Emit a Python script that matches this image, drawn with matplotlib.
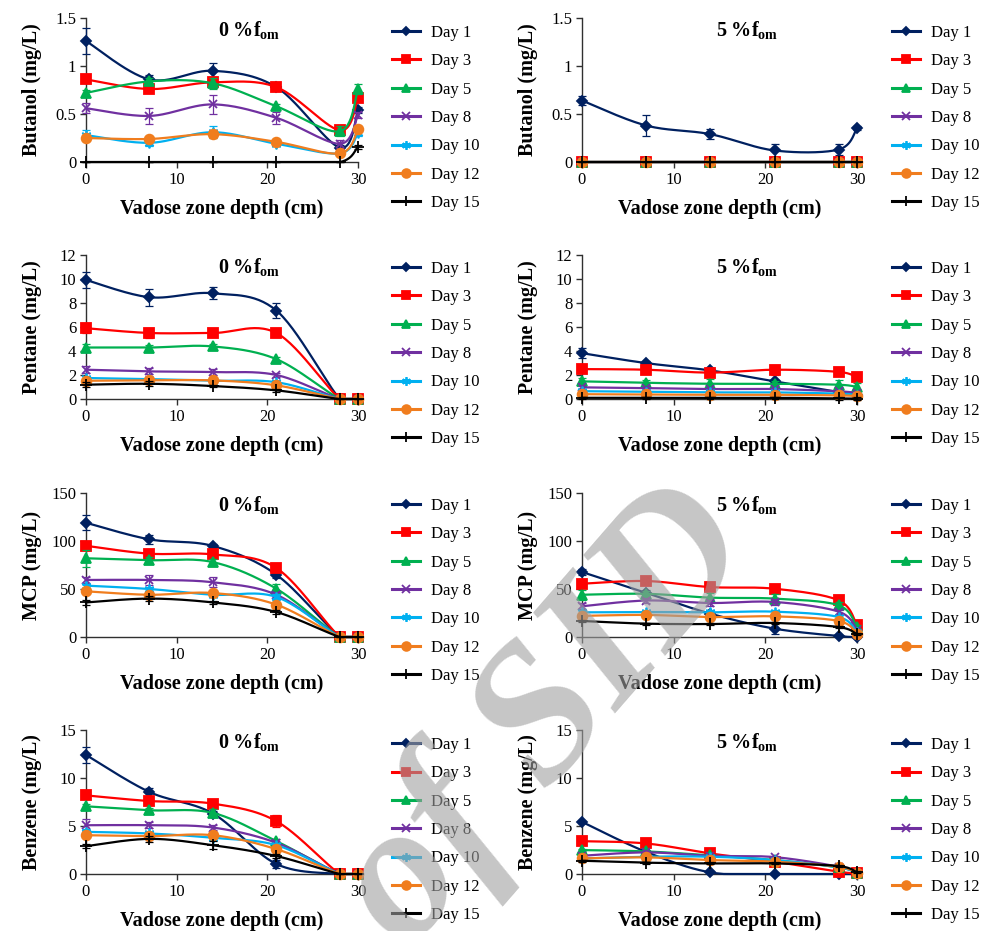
import numpy as np
import matplotlib
matplotlib.use("Agg")
import matplotlib.pyplot as plt
from matplotlib.lines import Line2D

plt.rcParams['font.family'] = ['Liberation Serif', 'DejaVu Serif']
plt.rcParams['mathtext.fontset'] = 'custom'
plt.rcParams['mathtext.rm'] = 'Liberation Serif'
plt.rcParams['mathtext.bf'] = 'Liberation Serif:bold'
plt.rcParams['mathtext.it'] = 'Liberation Serif:italic'

# ---------------- data ----------------
depth = [0, 7, 14, 21, 28, 30]
days = ['Day 1', 'Day 3', 'Day 5', 'Day 8', 'Day 10', 'Day 12', 'Day 15']
colors = ['#002060', '#FF0000', '#00B050', '#7030A0', '#00B0F0', '#F07D1E', '#000000']
markers = ['D', 's', '^', 'x', (6, 2, 0), 'o', '+']
msizes = [5, 7, 7, 6, 7, 7, 8]

butanol_0 = [[1.26, 0.86, 0.95, 0.78, 0.15, 0.54],
             [0.86, 0.76, 0.83, 0.78, 0.33, 0.67],
             [0.72, 0.84, 0.82, 0.58, 0.32, 0.76],
             [0.56, 0.48, 0.60, 0.46, 0.19, 0.49],
             [0.28, 0.20, 0.31, 0.19, 0.09, 0.30],
             [0.25, 0.24, 0.29, 0.21, 0.09, 0.34],
             [0.0, 0.0, 0.0, 0.0, 0.0, 0.16]]
butanol_0_err = [[0.14, 0.05, 0.08, 0.03, 0.03, 0.03],
                 [0.02, 0.03, 0.06, 0.03, 0.05, 0.03],
                 [0.03, 0.03, 0.06, 0.02, 0.05, 0.05],
                 [0.05, 0.08, 0.10, 0.06, 0.04, 0.03],
                 [0.05, 0.03, 0.06, 0.02, 0.02, 0.03],
                 [0.02, 0.02, 0.04, 0.02, 0.02, 0.03],
                 [0.0, 0.0, 0.0, 0.0, 0.0, 0.02]]

butanol_5 = [[0.64, 0.38, 0.29, 0.12, 0.13, 0.35],
             [0, 0, 0, 0, 0, 0],
             [0, 0, 0, 0, 0, 0],
             [0, 0, 0, 0, 0, 0],
             [0, 0, 0, 0, 0, 0],
             [0, 0, 0, 0, 0, 0],
             [0, 0, 0, 0, 0, 0]]
butanol_5_err = [[0.05, 0.11, 0.05, 0.07, 0.06, 0.02],
                 [0, 0, 0, 0, 0, 0],
                 [0, 0, 0, 0, 0, 0],
                 [0, 0, 0, 0, 0, 0],
                 [0, 0, 0, 0, 0, 0],
                 [0, 0, 0, 0, 0, 0],
                 [0, 0, 0, 0, 0, 0]]

pentane_0 = [[9.92, 8.48, 8.81, 7.37, 0, 0],
             [5.90, 5.50, 5.50, 5.50, 0, 0],
             [4.29, 4.29, 4.38, 3.32, 0, 0],
             [2.44, 2.30, 2.24, 2.00, 0, 0],
             [1.75, 1.66, 1.52, 1.40, 0, 0],
             [1.52, 1.55, 1.55, 1.14, 0, 0],
             [1.19, 1.27, 1.08, 0.72, 0, 0]]
pentane_0_err = [[0.7, 0.7, 0.5, 0.6, 0, 0],
                 [0.4, 0.4, 0.35, 0.3, 0, 0],
                 [0.3, 0.2, 0.2, 0.2, 0, 0],
                 [0.3, 0.25, 0.25, 0.2, 0, 0],
                 [0.2, 0.15, 0.15, 0.1, 0, 0],
                 [0.15, 0.15, 0.15, 0.1, 0, 0],
                 [0.2, 0.2, 0.1, 0.1, 0, 0]]

pentane_5 = [[3.82, 2.99, 2.38, 1.47, 0.58, 0.36],
             [2.49, 2.44, 2.20, 2.44, 2.26, 1.80],
             [1.47, 1.35, 1.27, 1.27, 1.19, 1.00],
             [0.97, 0.91, 0.83, 0.83, 0.64, 0.50],
             [0.65, 0.60, 0.55, 0.55, 0.45, 0.35],
             [0.40, 0.38, 0.35, 0.35, 0.30, 0.25],
             [0.10, 0.10, 0.10, 0.10, 0.05, 0.03]]
pentane_5_err = [[0.4, 0.15, 0.2, 0.15, 0.1, 0.1],
                 [0.1, 0.1, 0.1, 0.4, 0.2, 0.1],
                 [0.3, 0.2, 0.4, 0.2, 0.4, 0.3],
                 [0.1, 0.1, 0.1, 0.1, 0.1, 0.1],
                 [0.1, 0.1, 0.1, 0.1, 0.1, 0.1],
                 [0.1, 0.1, 0.1, 0.1, 0.1, 0.1],
                 [0.1, 0.1, 0.1, 0.1, 0.1, 0.1]]

mcp_0 = [[119, 101.7, 94.8, 64.9, 0, 0],
         [95, 86.8, 86, 71.9, 0, 0],
         [82, 80, 78, 50.3, 0, 0],
         [59.4, 59.4, 57, 44, 0, 0],
         [53.5, 50, 44, 41.7, 0, 0],
         [47.6, 44, 45.8, 33.7, 0, 0],
         [36, 40, 36, 26, 0, 0]]
mcp_0_err = [[8, 5, 2, 3, 0, 0],
             [2, 2, 2, 2, 0, 0],
             [9, 3, 3, 5, 0, 0],
             [3, 5, 5, 3, 0, 0],
             [2, 2, 2, 3, 0, 0],
             [2, 2, 2, 2, 0, 0],
             [3, 3, 2, 2, 0, 0]]

mcp_5 = [[67.7, 46, 24.3, 8.7, 1, 0],
         [55.5, 58.3, 52, 50.3, 38.2, 12],
         [44, 45, 41, 40, 33, 10],
         [32, 38, 35.4, 36.5, 26.4, 7.6],
         [25.7, 26, 25.7, 26.4, 20.8, 5],
         [22, 23, 20.8, 21.5, 16.7, 3.5],
         [16.7, 13.9, 13.5, 14.6, 10.4, 2.8]]
mcp_5_err = [[3, 3, 2, 6, 1, 1],
             [2, 2, 2, 2, 2, 2],
             [5, 3, 5, 5, 3, 2],
             [3, 3, 3, 3, 2, 1],
             [2, 2, 2, 2, 2, 1],
             [2, 2, 2, 2, 2, 1],
             [1, 1, 1, 1, 1, 1]]

benzene_0 = [[12.4, 8.54, 6.3, 1.04, 0, 0],
             [8.19, 7.6, 7.33, 5.5, 0, 0],
             [7.05, 6.64, 6.36, 3.42, 0, 0],
             [5.08, 5.08, 4.84, 3.25, 0, 0],
             [4.39, 4.22, 3.77, 3.0, 0, 0],
             [4.04, 3.94, 4.04, 2.59, 0, 0],
             [2.9, 3.66, 3.0, 1.87, 0, 0]]
benzene_0_err = [[0.8, 0.4, 0.3, 0.4, 0, 0],
                 [0.2, 0.2, 0.2, 0.6, 0, 0],
                 [0.2, 0.2, 0.4, 0.2, 0, 0],
                 [0.6, 0.3, 0.3, 0.2, 0, 0],
                 [0.3, 0.2, 0.2, 0.2, 0, 0],
                 [0.2, 0.2, 0.2, 0.2, 0, 0],
                 [0.2, 0.3, 0.4, 0.2, 0, 0]]

benzene_5 = [[5.43, 2.3, 0.17, 0.0, 0.0, 0.0],
             [3.42, 3.18, 2.14, 1.28, 0.24, 0.07],
             [2.49, 2.35, 1.94, 1.45, 0.69, 0.14],
             [1.9, 2.25, 1.9, 1.76, 0.76, 0.14],
             [1.62, 1.8, 1.8, 1.45, 0.69, 0.10],
             [1.62, 1.73, 1.45, 1.28, 0.76, 0.10],
             [1.38, 1.18, 1.1, 1.1, 0.83, 0.17]]
benzene_5_err = [[0.1] * 6 for _ in range(7)]

panels = [
    ('Butanol (mg/L)', butanol_0, butanol_0_err, 1.5, [0, 0.5, 1, 1.5], ['0', '0.5', '1', '1.5'], '0'),
    ('Butanol (mg/L)', butanol_5, butanol_5_err, 1.5, [0, 0.5, 1, 1.5], ['0', '0.5', '1', '1.5'], '5'),
    ('Pentane (mg/L)', pentane_0, pentane_0_err, 12, [0, 2, 4, 6, 8, 10, 12], ['0', '2', '4', '6', '8', '10', '12'], '0'),
    ('Pentane (mg/L)', pentane_5, pentane_5_err, 12, [0, 2, 4, 6, 8, 10, 12], ['0', '2', '4', '6', '8', '10', '12'], '5'),
    ('MCP (mg/L)', mcp_0, mcp_0_err, 150, [0, 50, 100, 150], ['0', '50', '100', '150'], '0'),
    ('MCP (mg/L)', mcp_5, mcp_5_err, 150, [0, 50, 100, 150], ['0', '50', '100', '150'], '5'),
    ('Benzene (mg/L)', benzene_0, benzene_0_err, 15, [0, 5, 10, 15], ['0', '5', '10', '15'], '0'),
    ('Benzene (mg/L)', benzene_5, benzene_5_err, 15, [0, 5, 10, 15], ['0', '5', '10', '15'], '5'),
]
xticks = [0, 10, 20, 30]


def smooth(x, y, n=30):
    P = np.column_stack([np.asarray(x, float), np.asarray(y, float)])
    out = []
    t = np.linspace(0, 1, n)[:, None]
    for i in range(len(P) - 1):
        p0 = P[i - 1] if i > 0 else P[i]
        p1 = P[i]
        p2 = P[i + 1]
        p3 = P[i + 2] if i + 2 < len(P) else P[i + 1]
        c1 = p1 + (p2 - p0) / 6.0
        c2 = p2 - (p3 - p1) / 6.0
        B = ((1 - t) ** 3) * p1 + 3 * ((1 - t) ** 2) * t * c1 + 3 * (1 - t) * t ** 2 * c2 + t ** 3 * p2
        out.append(B if i == 0 else B[1:])
    B = np.vstack(out)
    # the plot area clips anything drawn below the x axis
    return B[:, 0], np.clip(B[:, 1], 0, None)


W, H = 992, 931
fig = plt.figure(figsize=(W / 100, H / 100), dpi=100)

col_left = [86, 582]
col_w = [272, 275]
row_top = [18, 255, 493, 730]
row_bot = [162, 399, 637, 874]
leg_x = [392, 892]
leg_top = [25, 261, 498, 737]

for k, (ylab, data, err, ymax, yt, ytl, pct) in enumerate(panels):
    r, c = divmod(k, 2)
    l = col_left[c] / W
    b = 1 - row_bot[r] / H
    w = col_w[c] / W
    h = (row_bot[r] - row_top[r]) / H
    ax = fig.add_axes([l, b, w, h])
    for i in range(7):
        xs, ys = smooth(depth, data[i])
        ax.plot(xs, ys, color=colors[i], lw=1.6, zorder=3 + i * 0.1, clip_on=False)
        ax.errorbar(depth, data[i], yerr=err[i], fmt='none', ecolor=colors[i],
                    elinewidth=0.9, capsize=3, capthick=0.9, zorder=3 + i * 0.1, clip_on=False)
        ax.plot(depth, data[i], linestyle='none', marker=markers[i], ms=msizes[i],
                color=colors[i], mec=colors[i], mew=1.3, zorder=3.05 + i * 0.1, clip_on=False)
    ax.set_xlim(0, 30)
    ax.set_ylim(0, ymax)
    ax.set_xticks(xticks)
    ax.set_xticklabels([str(v) for v in xticks])
    ax.set_yticks(yt)
    ax.set_yticklabels(ytl)
    for s in ['top', 'right']:
        ax.spines[s].set_visible(False)
    for s in ['left', 'bottom']:
        ax.spines[s].set_color('#303030')
        ax.spines[s].set_linewidth(1.0)
    ax.tick_params(axis='both', direction='out', length=4, width=1.0, color='#303030',
                   labelsize=12, pad=3)
    ax.set_xlabel('Vadose zone depth (cm)', fontsize=14.5, fontweight='bold')
    ax.set_ylabel(ylab, fontsize=14.5, fontweight='bold')
    ax.xaxis.set_label_coords(0.5, -0.255)
    ax.yaxis.set_label_coords(-0.16, 0.5)
    ax.text(0.60, 0.915, r'$\mathbf{' + pct + r'\ \%f_{om}}$', transform=ax.transAxes,
            fontsize=14.5, ha='center', va='center')

    handles = [Line2D([0], [0], color=colors[i], lw=2.2, marker=markers[i],
                      ms=msizes[i] * 0.9, mec=colors[i], mfc=colors[i], mew=1.3)
               for i in range(7)]
    ax.legend(handles, days, loc='upper left',
              bbox_to_anchor=(leg_x[c] / W, 1 - leg_top[r] / H),
              bbox_transform=fig.transFigure, frameon=False, fontsize=12,
              handlelength=1.65, handletextpad=0.7, labelspacing=0.74,
              borderpad=0, borderaxespad=0)

# watermark
fig.text(762 / W, 1 - 556 / H, 'Archive of SID', rotation=49, rotation_mode='anchor',
         ha='right', va='baseline', fontsize=140, fontstyle='italic', fontweight='bold',
         color='#a0a0a0', alpha=0.6, zorder=100)

fig.savefig('out.png', dpi=100)
